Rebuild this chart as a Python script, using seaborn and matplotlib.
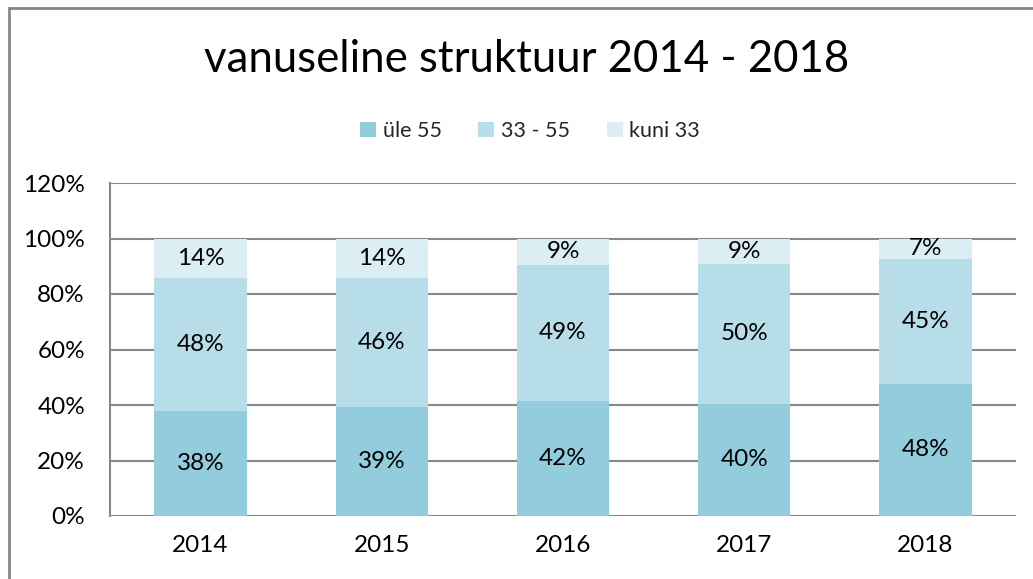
import matplotlib
matplotlib.use("Agg")
import matplotlib.pyplot as plt
import seaborn as sns
import pandas as pd
import numpy as np
from matplotlib.patches import Rectangle, Patch

years = ["2014", "2015", "2016", "2017", "2018"]
groups = ["üle 55", "33 - 55", "kuni 33"]
ule55 = [37.9, 39.4, 41.6, 40.4, 47.6]
vahe = [48.0, 46.4, 49.0, 50.4, 45.0]
kuni33 = [14.1, 14.2, 9.4, 9.2, 7.4]
colors = ["#93CDDD", "#B7DDE8", "#DAEEF3"]
title = "vanuseline struktuur 2014 - 2018"
yticks = [0, 20, 40, 60, 80, 100, 120]

sns.set_theme(style="white")
plt.rcParams["font.family"] = ["Lato", "DejaVu Sans"]

series = [ule55, vahe, kuni33]
cums = np.cumsum(np.array(series), axis=0)

fig = plt.figure(figsize=(10.33, 5.79), dpi=100)
ax = fig.add_axes([110/1033, 1-516/579, (1016-110)/1033, (516-183)/579])

# draw from top layer down so lower layers overlay
for k in range(2, -1, -1):
    d = pd.DataFrame({"year": years, "v": cums[k]})
    sns.barplot(data=d, x="year", y="v", color=colors[k], width=0.51,
                saturation=1, ax=ax, zorder=3, linewidth=0)

for i in range(len(years)):
    bottom = 0
    for k in range(3):
        v = series[k][i]
        ax.text(i, bottom + v/2, f"{v:.0f}%", ha="center", va="center",
                fontsize=17.5, color="#000000", zorder=5)
        bottom += v

ax.set_xlim(-0.5, 4.5)
ax.set_ylim(0, 120)
ax.set_yticks(yticks)
ax.set_yticklabels([f"{t}%" for t in yticks])
ax.set_xlabel("")
ax.set_ylabel("")
ax.grid(axis="y", color="#888888", linewidth=1.5, zorder=0)
ax.set_axisbelow(True)
for s in ["top", "right", "bottom"]:
    ax.spines[s].set_visible(False)
ax.spines["left"].set_color("#888888")
ax.spines["left"].set_linewidth(1.5)
ax.tick_params(axis="both", length=0, labelsize=17.5, colors="#000000")
ax.tick_params(axis="y", pad=18)
ax.tick_params(axis="x", pad=14)

handles = [Patch(facecolor=c, edgecolor="none") for c in colors]
fig.legend(handles, groups, loc="center", bbox_to_anchor=(530/1033, 1-131/579),
           ncol=3, frameon=False, fontsize=15.5, handlelength=0.75, handleheight=0.75,
           handletextpad=0.3, columnspacing=1.7)

fig.text(527/1033, 1-60/579, title, ha="center", va="center", fontsize=31.5, color="#000000")

fig.patches.append(Rectangle((8.5/1033, -0.1), 1.2, 1.1 - 7.5/579,
                             transform=fig.transFigure, fill=False,
                             edgecolor="#868686", linewidth=2, zorder=10))

fig.savefig("out.png", dpi=100)
